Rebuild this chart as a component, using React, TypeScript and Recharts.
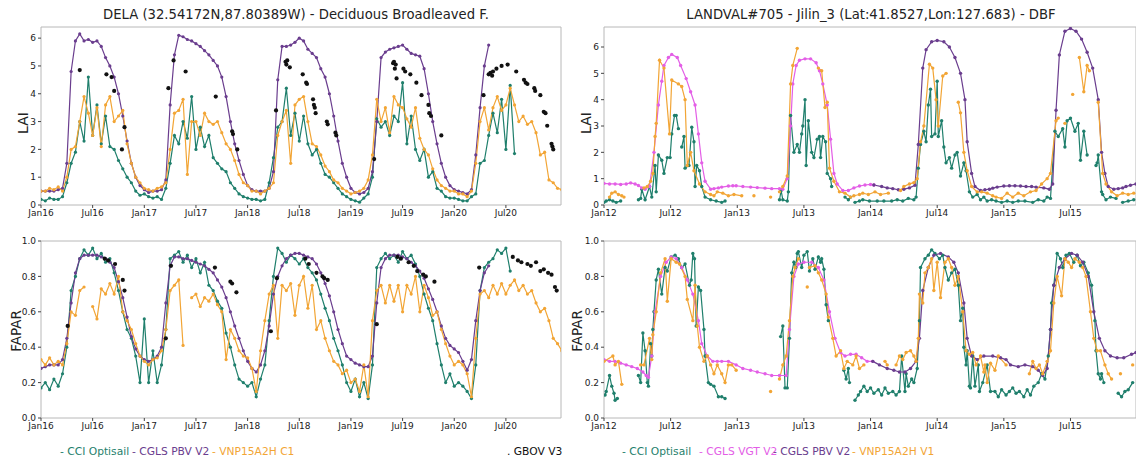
import React from "react";
import { ComposedChart, Line, XAxis, YAxis, ReferenceArea } from "recharts";

// time axis: months since January of the first year shown
const leftTicks = [0, 6, 12, 18, 24, 30, 36, 42, 48, 54];
const leftTickLabels = ["Jan16", "Jul16", "Jan17", "Jul17", "Jan18", "Jul18", "Jan19", "Jul19", "Jan20", "Jul20"];
const rightTicks = [0, 6, 12, 18, 24, 30, 36, 42];
const rightTickLabels = ["Jan12", "Jul12", "Jan13", "Jul13", "Jan14", "Jul14", "Jan15", "Jul15"];
const laiTicks = [0, 1, 2, 3, 4, 5, 6];
const faparTicks = [0, 0.2, 0.4, 0.6, 0.8, 1.0];

// ---- DELA, LAI (half-month samples from Jan16) ----
const delaLaiCci = [
  0.2, 0.15, 0.25, 0.2, 0.2, 0.3, 0.8, 1.5, 1.9, 3.0,
  2.3, 4.6, 2.5, 3.6, 2.2, 3.2, 2.1, 2.0, 1.6, 1.3,
  1.0, 0.8, 0.5, 0.35, 0.4, 0.3, 0.25, 0.3, 0.2, 0.6,
  1.5, 2.5, 2.2, 3.0, 2.4, 3.9, 2.0, 2.8, 2.1, 2.5,
  1.7, 1.5, 1.3, 1.2, 0.8, 0.6, 0.4, 0.3, 0.25, 0.2,
  0.2, 0.15, 0.2, 0.8, 1.7, 2.8, 3.0, 4.2, 2.5, 3.3,
  2.3, 3.2, 2.2, 1.8, 2.0, 1.5, 1.1, 1.0, 0.8, 0.6,
  0.4, 0.3, 0.2, 0.15, 0.1, 0.25, 0.4, 1.0, 3.1, 2.8,
  3.0, 2.5, 3.2, 3.0, 4.4, 2.2, 3.2, 2.0, 1.6, 2.0,
  1.0, 1.2, 0.6, 0.5, 0.3, 0.25, 0.25, 0.2, 0.15, 0.15,
  0.3, 0.4, 1.5, 1.6, 2.5, 3.3, 2.6, 3.8, 2.0, 4.3, 1.85,
];
const delaLaiPbv = [
  0.5, 0.5, 0.5, 0.5, 0.55, 0.6, 1.5, 4.8, 5.9, 6.15,
  5.9, 5.95, 5.85, 5.9, 5.7, 5.3, 5.0, 4.6, 4.0, 3.2,
  2.3, 1.5, 1.0, 0.7, 0.55, 0.45, 0.5, 0.5, 0.55, 0.9,
  3.6, 5.4, 6.1, 6.05, 5.95, 5.9, 5.8, 5.7, 5.55, 5.4,
  5.2, 5.0, 4.6, 3.9, 3.0, 2.2, 1.6, 1.1, 0.7, 0.55,
  0.5, 0.5, 0.5, 0.6, 1.2, 4.5, 5.7, 5.7, 5.75, 5.85,
  6.0, 5.9, 5.6, 5.45, 5.3, 4.9, 4.6, 4.0, 3.2, 2.3,
  1.5, 1.0, 0.6, 0.45, 0.4, 0.45, 0.6, 1.2, 3.0, 5.3,
  5.5, 5.6, 5.65, 5.7, 5.75, 5.6, 5.45, 5.4, 5.35, 4.9,
  4.0, 3.0, 2.2, 1.5, 1.0, 0.7, 0.55, 0.5, 0.45, 0.4,
  0.55, 1.8, 3.5, 5.0, 5.75,
];
const delaLaiVnp = [
  0.5, 0.5, 0.6, 0.55, 0.65, 0.5, 1.0, 2.0, 2.1, 3.0,
  3.9, 3.3, 2.5, 3.5, 2.1, 3.6, 3.9, 3.0, 3.2, 3.4,
  2.2, 1.5, 1.0, 0.8, 0.6, 0.55, 0.5, 0.6, 0.65, 0.8,
  2.0, 3.3, 3.4, 3.8, 1.1, 3.0, 3.0, 2.5, 3.3, 3.0,
  2.9, 3.0, 2.6, 2.2, 2.0, 1.6, 1.1, 0.8, 0.7, 0.5,
  0.5, 0.4, 0.5, 0.6, 0.8, 2.5, 3.0, 3.4, 1.5, 3.6,
  3.8, 3.9, 3.0, 2.2, 2.1, 1.8, 1.4, 1.2, 0.9, 0.8,
  0.6, 0.5, 0.4, 0.45, 0.5, 0.6, 0.9, 1.8, 3.8, 3.0,
  3.5, 2.6, 3.9, 3.6, 3.5, 3.1, 2.8, 3.5, 2.4, 2.0,
  1.8, 1.3, 0.9, 0.7, 0.6, 0.5, 0.5, 0.4, 0.4, 0.3,
  0.5, 1.5, 3.0, 3.5, 2.7, 3.5, 3.9, 3.4, 3.6, 4.2,
  3.6, 3.0, 3.2, 2.9, 3.0, 2.6, 1.8, 1.9, 0.9, 0.8,
  0.6, 0.55,
];
// GBOV: [month, value] pairs
const delaLaiGbov = [
  4.5, 4.85, 7.6, 4.7, 8.2, 4.6, 8.5, 4.1, 9.4, 2.0, 9.7, 2.8,
  14.8, 4.2, 15.4, 5.2, 16.8, 4.8, 20.3, 3.9, 22.2, 2.65, 22.3, 2.55, 22.8, 2.0,
  27.3, 3.4, 28.4, 5.15, 28.5, 5.05, 28.6, 5.2, 28.9, 4.95, 30.4, 4.7, 30.8, 4.4, 30.9, 4.35,
  31.6, 3.8, 31.7, 3.6, 31.8, 3.5, 31.9, 3.3, 33.2, 3.0, 33.3, 2.9, 34.2, 2.6, 34.3, 2.5,
  38.7, 1.65, 40.9, 5.1, 41.0, 5.15, 41.1, 4.9, 41.2, 5.05, 41.3, 4.55, 42.1, 4.9, 42.3, 4.8,
  42.9, 4.7, 43.6, 4.4, 44.2, 3.95, 45.0, 3.6, 45.1, 3.3, 45.3, 3.2, 46.5, 2.5,
  51.4, 3.95, 52.0, 4.7, 52.2, 4.75, 52.4, 4.65, 52.5, 4.8, 52.9, 4.9, 53.5, 5.0, 54.2, 5.05,
  55.2, 4.8, 56.1, 4.5, 56.3, 4.4, 56.5, 4.35, 57.3, 4.2, 57.4, 4.1, 58.0, 3.95, 58.4, 3.35,
  58.6, 3.3, 58.8, 2.85, 59.3, 2.2, 59.4, 2.1, 59.5, 2.0,
];

// ---- DELA, FAPAR ----
const delaFaparCci = [
  0.17, 0.2, 0.16, 0.22, 0.18, 0.25, 0.4, 0.72, 0.8, 0.9,
  0.95, 0.92, 0.96, 0.9, 0.93, 0.88, 0.9, 0.82, 0.72, 0.6,
  0.5, 0.45, 0.35, 0.2, 0.56, 0.2, 0.38, 0.2, 0.3, 0.5,
  0.9, 0.92, 0.94, 0.88, 0.92, 0.85, 0.9, 0.82, 0.88, 0.75,
  0.72, 0.66, 0.62, 0.48, 0.4, 0.3, 0.22, 0.2, 0.18, 0.2,
  0.12, 0.22, 0.3, 0.55, 0.8, 0.96, 0.93, 0.88, 0.92, 0.9,
  0.87, 0.9, 0.85, 0.82, 0.78, 0.7, 0.62, 0.55, 0.45, 0.38,
  0.3, 0.2, 0.15, 0.22, 0.12, 0.2, 0.11, 0.3, 0.85, 0.9,
  0.93, 0.9, 0.92, 0.88, 0.94, 0.9, 0.92, 0.87, 0.8, 0.7,
  0.62, 0.55, 0.42, 0.3, 0.2, 0.25, 0.18, 0.2, 0.18, 0.15,
  0.11, 0.3, 0.72, 0.85, 0.88, 0.9, 0.95, 0.93, 0.96, 0.83,
];
const delaFaparPbv = [
  0.28, 0.29, 0.3, 0.3, 0.3, 0.33, 0.45, 0.65, 0.82, 0.9,
  0.92, 0.92, 0.92, 0.92, 0.91, 0.9, 0.88, 0.85, 0.77, 0.68,
  0.57, 0.46, 0.39, 0.35, 0.33, 0.32, 0.33, 0.35, 0.4, 0.65,
  0.86, 0.91, 0.91, 0.9, 0.9, 0.89, 0.88, 0.87, 0.86, 0.84,
  0.82, 0.78, 0.74, 0.68, 0.6, 0.52, 0.45, 0.38, 0.32, 0.28,
  0.26, 0.3, 0.38, 0.52, 0.7, 0.8, 0.86, 0.9, 0.92, 0.93,
  0.93, 0.92, 0.91, 0.9, 0.87, 0.82, 0.76, 0.69, 0.6, 0.5,
  0.42, 0.35, 0.33, 0.31, 0.3, 0.29, 0.29, 0.35, 0.65, 0.85,
  0.9, 0.92, 0.92, 0.92, 0.91, 0.9, 0.88, 0.86, 0.83, 0.79,
  0.73, 0.67, 0.6, 0.52, 0.45, 0.41, 0.39, 0.37, 0.32, 0.27,
  0.33, 0.55, 0.72, 0.82, 0.86,
];
const delaFaparVnp = [
  0.33, 0.3, 0.34, 0.3, 0.32, 0.3, 0.42, 0.6, 0.58, 0.72,
  0.74, null, 0.63, 0.56, 0.73, 0.7, 0.76, 0.7, 0.8, 0.6,
  0.55, 0.5, 0.42, 0.35, 0.32, 0.3, 0.33, 0.34, 0.38, 0.5,
  0.72, 0.75, 0.78, 0.41, null, 0.68, 0.7, 0.63, 0.68, 0.66,
  0.7, 0.64, 0.6, 0.33, 0.5, 0.45, 0.38, 0.35, 0.34, 0.28,
  0.15, 0.38, 0.55, 0.7, 0.75, 0.45, 0.75, 0.72, 0.76, 0.58,
  0.75, 0.8, 0.62, 0.75, 0.5, 0.55, 0.45, 0.38, 0.32, 0.3,
  0.25, 0.27, 0.2, 0.22, 0.15, 0.3, 0.12, 0.55, 0.72, 0.75,
  0.65, 0.75, 0.66, 0.75, 0.6, 0.75, 0.7, 0.8, 0.6, 0.75,
  0.68, 0.58, 0.6, 0.5, 0.42, 0.35, 0.3, 0.32, 0.3, 0.25,
  0.12, 0.45, 0.7, 0.72, 0.68, 0.75, 0.7, 0.76, 0.7, 0.75,
  0.78, 0.72, 0.75, 0.7, 0.72, 0.65, 0.6, 0.62, 0.55, 0.45,
  0.42, 0.38,
];
const delaFaparGbov = [
  3.1, 0.52, 7.4, 0.9, 7.8, 0.89, 8.6, 0.87, 9.5, 0.78, 9.7, 0.72,
  14.5, 0.45, 15.1, 0.86, 20.2, 0.85, 22.0, 0.77, 22.2, 0.76, 22.7, 0.71,
  26.7, 0.49, 27.4, 0.79, 30.7, 0.9, 31.1, 0.87, 32.0, 0.82, 32.7, 0.8, 32.9, 0.79, 33.3, 0.78,
  39.0, 0.53, 41.4, 0.91, 41.8, 0.9, 42.7, 0.88, 43.3, 0.86, 43.7, 0.83, 44.4, 0.81, 44.7, 0.8, 45.7, 0.77,
  50.9, 0.85, 54.8, 0.91, 55.4, 0.89, 55.8, 0.88, 56.5, 0.87, 56.9, 0.86, 57.5, 0.88, 58.0, 0.83,
  58.4, 0.84, 58.9, 0.82, 59.3, 0.81, 59.7, 0.74, 59.9, 0.72,
];

// ---- Jilin_3, LAI: [month, value] pairs from Jan12, null = gap ----
const jilinLaiCci = [
  0.0, 0.1, 0.2, 0.15, 0.5, 0.2, 0.8, 0.15, 1.1, 0.1, 1.5, 0.15, 1.6, null,
  3.1, 0.2, 3.3, 0.25, 3.4, 0.6, 3.7, 0.2, 4.1, 0.7, 4.3, 0.3, 4.6, 1.5, 4.7, 0.5, 4.9, 1.9,
  5.2, 1.7, 5.4, 1.2, 5.7, 1.8, 5.95, 1.8, 6.1, 2.7, 6.35, 3.4, 6.5, 3.4, 6.7, 2.9, 6.8, null,
  7.0, 2.2, 7.2, 2.6, 7.3, 1.4, 7.65, 1.5, 7.9, 2.95, 8.1, 2.4, 8.2, 0.7, 8.35, 1.5, 8.6, 1.3,
  8.8, 0.7, 9.1, 0.3, 9.6, 0.2, 10.1, 0.15, 10.6, 0.1, 10.9, 0.15, 11.0, null,
  15.8, 0.2, 15.95, 0.55, 16.1, 0.2, 16.5, 0.15, 16.6, 0.5, 16.8, 3.4, 17.1, 2.0, 17.4, 2.3,
  17.6, 2.0, 17.8, 2.7, 17.9, 3.0, 18.1, 4.0, 18.2, 1.5, 18.4, 3.2, 18.7, 2.0, 18.9, 1.8,
  19.2, 2.5, 19.4, 2.6, 19.5, 1.8, 19.7, 2.6, 19.95, 2.4, 20.1, 1.2, 20.4, 1.0, 20.5, 0.7, 20.6, null,
  21.7, 0.3, 22.0, 0.2, 22.2, 0.3, 22.3, null,
  22.6, 0.1, 23.0, 0.15, 23.3, 0.2, 23.9, 0.15, 24.6, 0.15, 25.2, 0.15, 25.9, 0.15, 26.4, 0.2,
  26.9, 0.15, 27.4, 0.25, 27.9, 0.2, 28.1, 0.3, 28.3, 1.4, 28.5, 2.3, 28.8, 2.8, 29.0, 2.4,
  29.2, 3.8, 29.4, 4.4, 29.5, 2.6, 29.8, 2.7, 30.0, 4.7, 30.1, 2.6, 30.4, 3.2, 30.6, 2.2,
  30.8, 1.6, 31.1, 1.8, 31.3, 1.4, 31.6, 1.9, 31.8, 2.0, 32.1, 1.1, 32.4, 1.6, 32.6, 1.3,
  32.9, 0.5, 33.2, 0.3, 33.6, 0.4, 33.9, 0.2, 34.2, 0.3, 34.5, 0.15, 34.9, 0.2, 35.3, 0.15,
  35.8, 0.1, 36.3, 0.15, 36.8, 0.1, 37.3, 0.15, 37.9, 0.15, 38.6, 0.1, 39.1, 0.2, 39.6, 0.15,
  39.9, 0.3, 40.2, 0.25, 40.6, 2.8, 40.9, 2.6, 41.3, 2.9, 41.5, 2.2, 41.7, 3.2, 42.0, 3.3,
  42.4, 2.8, 42.7, 3.1, 42.9, 1.7, 43.2, 2.8, 43.5, 1.9, 43.7, null,
  44.3, 1.5, 44.4, 1.6, 44.5, 1.9, 44.8, 0.5, 44.9, 0.4, 45.2, 0.2, 45.6, 0.3, 46.1, 0.25, 46.3, null,
  46.7, 0.1, 47.2, 0.15, 47.7, 0.2,
];
const jilinLaiVgt = [
  0, 0.82, 0.5, 0.8, 1, 0.8, 1.5, 0.78, 2, 0.8, 2.4, 0.84, 2.8, 0.8, 3.1, 0.74, 3.4, 0.65,
  3.7, 0.6, 4.1, 0.7, 4.5, 2.0, 4.9, 3.8, 5.2, 4.7, 5.4, 5.3, 5.8, 5.6, 6.1, 5.72, 6.6, 5.6,
  6.9, 5.3, 7.4, 4.8, 7.8, 4.3, 8.2, 3.8, 8.5, 2.7, 8.8, 1.6, 9.1, 0.9, 9.6, 0.6, 9.9, 0.62,
  10.3, 0.65, 10.6, 0.68, 11.2, 0.72, 11.6, 0.73, 11.9, 0.73, 12.5, 0.7, 13.2, 0.68, 13.8, 0.66,
  14.5, 0.64, 15.1, 0.62, 15.8, 0.62, 16.1, 0.6, 16.5, 1.0, 16.8, 3.0, 17.0, 4.6, 17.3, 5.3,
  17.6, 5.5, 18.1, 5.55, 18.6, 5.55, 19.1, 5.4, 19.4, 5.1, 19.7, 4.6, 20.1, 3.8, 20.4, 2.5,
  20.7, 1.2, 21.0, 0.8, 21.5, 0.55, 22.0, 0.55, 22.5, 0.65, 23.0, 0.72, 23.5, 0.76, 24.0, 0.78,
  24.3, 0.76,
];
const jilinLaiPbv = [
  24.3, 0.76, 25, 0.7, 25.5, 0.65, 26, 0.62, 26.5, 0.58, 27, 0.6, 27.5, 0.65, 28, 0.75,
  28.3, 2.3, 28.7, 5.2, 29.0, 5.9, 29.5, 6.2, 30.0, 6.25, 30.6, 6.2, 31.1, 6.0, 31.6, 5.6,
  32.1, 5.0, 32.5, 4.0, 32.7, 2.4, 33.1, 1.2, 33.4, 0.7, 33.9, 0.55, 34.3, 0.58, 34.7, 0.6,
  35.0, 0.64, 35.4, 0.68, 36.0, 0.72, 36.5, 0.73, 37.0, 0.73, 37.5, 0.72, 38.0, 0.7, 38.5, 0.7,
  38.9, 0.68, 39.6, 0.65, 40.1, 0.6, 40.4, 0.8, 40.7, 3.6, 41.0, 5.7, 41.5, 6.6, 42.0, 6.7,
  42.5, 6.6, 43.0, 6.3, 43.5, 5.8, 44.0, 5.2, 44.5, 4.0, 44.8, 2.0, 45.1, 1.2, 45.4, 0.7,
  45.9, 0.6, 46.3, 0.62, 46.7, 0.65, 47.0, 0.7, 47.4, 0.75, 47.9, 0.8,
];
const jilinLaiVnp = [
  0.5, 0.3, 0.7, 0.45, 1.0, 0.5, 1.3, 0.4, 1.6, 0.35, 1.8, 0.3, 2.0, null,
  3.6, 0.65, 3.9, 0.7, 4.2, 0.9, 4.4, 1.2, 4.6, 2.6, 4.7, 3.1, 5.0, 5.5, 5.4, 5.2, 5.9, 2.7,
  6.1, 4.75, 6.7, 4.6, 7.0, 4.5, 7.3, 4.0, 7.5, 1.5, 7.8, 2.0, 8.1, 1.3, 8.6, 0.8, 9.1, 0.5,
  9.6, 0.4, 9.9, 0.35, 10.2, 0.5, 10.7, 0.45, 11.2, 0.35, 11.7, 0.4, 12.4, 0.35, 12.8, null,
  13.5, 0.35, 13.6, null, 15.0, 0.3, 15.1, null,
  15.8, 0.5, 16.1, 0.7, 16.5, 1.1, 16.8, 4.6, 17.0, 5.3, 17.4, 5.95, 17.6, null,
  19.3, 5.2, 19.6, 5.1, 19.9, 3.7, 20.1, 3.9, 20.3, 1.4, 20.7, 0.9, 21.2, 0.5, 21.7, 0.45,
  22.2, 0.3, 22.5, 0.35, 23.0, 0.4, 23.3, 0.45, 23.8, 0.4, 24.4, 0.5, 24.9, 0.4, 25.6, 0.45, 25.8, null,
  26.7, 0.55, 27.0, 0.7, 27.5, 0.8, 27.9, 0.85, 28.2, 1.0, 28.5, 2.4, 28.8, 3.0, 29.3, 5.35,
  29.6, 5.2, 29.9, 4.0, 30.1, 3.0, 30.5, 4.9, 30.8, 5.0, 31.0, null,
  31.9, 3.9, 32.1, 3.5, 32.4, 2.0, 32.7, 1.3, 33.1, 0.7, 33.6, 0.5, 34.0, 0.5, 34.5, 0.45,
  35.0, 0.35, 35.3, 0.3, 35.8, 0.25, 36.3, 0.45, 36.8, 0.3, 37.3, 0.45, 37.8, 0.35, 38.4, 0.5,
  38.9, 0.55, 39.4, 0.8, 39.9, 1.0, 40.2, 1.2, 40.7, 3.2, 40.9, 3.3, 41.1, null,
  41.5, 3.1, 41.6, null, 42.2, 4.2, 42.3, null,
  42.8, 5.6, 43.2, 4.3, 43.5, 5.3, 43.7, 5.1, 43.9, null,
  44.5, 3.9, 44.9, 1.2, 45.2, 0.8, 45.7, 0.5, 46.2, 0.35, 46.7, 0.45, 47.2, 0.4, 47.7, 0.45,
];

// ---- Jilin_3, FAPAR ----
const jilinFaparCci = [
  0.1, 0.13, 0.2, 0.15, 0.5, 0.24, 0.7, 0.18, 0.9, 0.14, 1.0, 0.1, 1.2, 0.11, 1.3, null,
  3.1, 0.24, 3.3, 0.2, 3.5, 0.48, 3.7, 0.38, 3.9, 0.2, 4.0, 0.18, 4.2, 0.42, 4.3, 0.35,
  4.4, 0.5, 4.5, 0.6, 4.7, 0.78, 4.9, 0.84, 5.2, 0.7, 5.5, 0.85, 5.7, 0.83, 6.05, 0.91,
  6.4, 0.92, 6.7, 0.9, 7.0, 0.85, 7.3, 0.87, 7.7, 0.75, 7.85, 0.78, 8.0, 0.93, 8.15, 0.9,
  8.3, 0.52, 8.5, 0.74, 8.7, 0.72, 9.0, 0.5, 9.1, 0.35, 9.4, 0.2, 9.6, 0.19, 9.9, 0.18,
  10.3, 0.12, 10.6, 0.12, 10.9, 0.11, 11.0, null,
  15.9, 0.46, 16.1, 0.52, 16.3, 0.17, 16.5, 0.17, 16.7, 0.45, 16.9, 0.82, 17.1, 0.88,
  17.25, 0.85, 17.4, 0.93, 17.5, 0.94, 17.8, 0.85, 18.0, 0.92, 18.3, 0.94, 18.5, 0.83,
  18.8, 0.9, 19.0, 0.84, 19.3, 0.91, 19.5, 0.88, 19.6, 0.9, 19.8, 0.84, 20.0, 0.64, 20.2, 0.55, 20.3, null,
  21.6, 0.27, 21.8, 0.22, 22.0, 0.28, 22.1, 0.2, 22.2, null,
  22.6, 0.1, 22.9, 0.13, 23.1, 0.15, 23.4, 0.18, 23.7, 0.15, 24.0, 0.17, 24.3, 0.14, 24.7, 0.16,
  25.0, 0.13, 25.3, 0.17, 25.6, 0.14, 26.0, 0.15, 26.3, 0.13, 26.6, 0.15, 26.8, 0.35, 27.1, 0.15,
  27.2, 0.25, 27.4, 0.18, 27.7, 0.22, 27.9, 0.2, 28.2, 0.28, 28.4, 0.55, 28.5, 0.85, 28.9, 0.9,
  29.2, 0.92, 29.5, 0.95, 29.8, 0.93, 30.2, 0.9, 30.5, 0.92, 30.7, 0.85, 31.0, 0.78, 31.3, 0.82,
  31.6, 0.84, 31.9, 0.75, 32.1, 0.55, 32.3, 0.62, 32.4, 0.4, 32.6, 0.3, 32.7, 0.38, 32.9, 0.18,
  33.0, 0.17, 33.2, 0.35, 33.4, 0.18, 33.7, 0.3, 33.8, 0.15, 34.1, 0.2, 34.5, 0.3, 34.8, 0.15,
  35.2, 0.15, 35.5, 0.12, 35.8, 0.16, 36.2, 0.13, 36.5, 0.15, 36.8, 0.17, 37.1, 0.14, 37.4, 0.15,
  37.8, 0.12, 38.1, 0.16, 38.4, 0.13, 38.7, 0.18, 39.1, 0.2, 39.4, 0.25, 39.7, 0.22, 40.0, 0.35,
  40.2, 0.5, 40.3, 0.65, 40.5, 0.75, 40.8, 0.93, 41.1, 0.9, 41.3, 0.85, 41.6, 0.92, 41.9, 0.93,
  42.3, 0.88, 42.6, 0.92, 42.9, 0.86, 43.2, 0.88, 43.6, 0.82, 43.9, 0.75, 44.2, 0.55, 44.3, 0.38,
  44.5, 0.25, 44.7, 0.22, 44.8, 0.25, 45.0, 0.2, 45.1, null,
  46.3, 0.14, 46.6, 0.12, 46.9, 0.15, 47.2, 0.16, 47.6, 0.2,
];
const jilinFaparVgt = [
  0, 0.33, 0.5, 0.32, 1, 0.32, 1.5, 0.31, 2, 0.3, 2.5, 0.29, 3, 0.28, 3.5, 0.26, 3.8, 0.24,
  4.0, 0.23, 4.3, 0.35, 4.6, 0.6, 5.1, 0.8, 5.6, 0.88, 6.05, 0.91, 6.5, 0.9, 7.0, 0.85,
  7.5, 0.78, 8.0, 0.7, 8.5, 0.55, 8.8, 0.42, 9.3, 0.35, 9.8, 0.32, 10.2, 0.32, 10.6, 0.32,
  11.2, 0.32, 11.9, 0.3, 12.5, 0.28, 13.2, 0.27, 13.8, 0.26, 14.5, 0.25, 15.1, 0.24, 15.8, 0.24,
  16.4, 0.24, 16.7, 0.5, 17.1, 0.8, 17.5, 0.87, 18.0, 0.88, 18.7, 0.88, 19.3, 0.85, 19.8, 0.78,
  20.3, 0.6, 20.8, 0.45, 21.3, 0.37, 21.7, 0.35, 22.2, 0.36, 22.7, 0.36, 23.2, 0.34, 23.7, 0.32,
  24.2, 0.32,
];
const jilinFaparPbv = [
  24.2, 0.32, 24.8, 0.3, 25.5, 0.28, 26.1, 0.27, 26.6, 0.26, 27.1, 0.26, 27.6, 0.28, 28.1, 0.32,
  28.4, 0.45, 28.7, 0.72, 29.2, 0.85, 29.7, 0.92, 30.3, 0.93, 31.0, 0.91, 31.5, 0.88, 31.9, 0.82,
  32.4, 0.65, 32.7, 0.45, 33.1, 0.35, 33.6, 0.33, 34.2, 0.35, 35.0, 0.35, 35.7, 0.34, 36.2, 0.33,
  36.6, 0.3, 37.3, 0.29, 37.9, 0.3, 38.6, 0.29, 39.1, 0.27, 39.5, 0.24, 39.9, 0.28, 40.2, 0.5,
  40.5, 0.75, 41.0, 0.85, 41.5, 0.9, 42.1, 0.93, 42.6, 0.92, 43.1, 0.88, 43.6, 0.8, 44.1, 0.6,
  44.6, 0.45, 45.1, 0.38, 45.6, 0.35, 46.2, 0.34, 46.8, 0.34, 47.5, 0.36, 47.9, 0.37,
];
const jilinFaparVnp = [
  0, 0.32, 0.8, 0.35, 1.0, 0.3, 1.3, 0.32, 1.6, 0.19, 1.7, null,
  3.3, 0.3, 3.6, 0.3, 4.1, 0.45, 4.3, 0.33, 4.4, 0.47, 4.7, 0.6, 5.1, 0.82, 5.5, 0.9, 5.7, 0.66,
  6.05, 0.9, 6.5, 0.88, 6.8, 0.87, 7.3, 0.8, 7.5, 0.67, 8.0, 0.55, 8.2, 0.75, 8.4, 0.52, 8.6, 0.4,
  9.0, 0.32, 9.3, 0.35, 9.6, 0.3, 9.9, 0.25, 10.2, 0.3, 10.6, 0.25, 10.9, 0.2, 11.2, 0.3,
  11.5, 0.3, 11.9, 0.27, 12.0, null, 15.0, 0.15, 15.1, null,
  15.8, 0.22, 16.1, 0.3, 16.4, 0.35, 16.7, 0.55, 17.0, 0.8, 17.2, 0.85, 17.5, 0.9, 17.6, null,
  18.3, 0.74, 18.4, null, 18.5, 0.85, 19.0, 0.86, 19.3, 0.82, 19.6, 0.78, 20.0, 0.7, 20.2, 0.57,
  20.6, 0.45, 20.9, 0.35, 21.3, 0.38, 21.6, 0.28, 21.9, 0.32, 22.4, 0.3, 22.7, 0.35, 23.0, 0.28,
  23.4, 0.3, 23.5, null, 25.3, 0.32, 25.5, 0.3, 25.6, null,
  26.3, 0.3, 26.6, 0.35, 26.9, 0.33, 27.2, 0.37, 27.6, 0.38, 27.9, 0.35, 28.1, 0.32, 28.3, 0.45,
  28.4, 0.7, 28.7, 0.65, 28.9, 0.82, 29.2, 0.85, 29.5, 0.9, 29.7, 0.72, 30.0, 0.88, 30.3, 0.68,
  30.7, 0.88, 31.0, 0.9, 31.3, 0.85, 31.6, 0.75, 31.9, 0.8, 32.3, 0.6, 32.6, 0.38, 32.9, 0.36,
  33.2, 0.37, 33.5, 0.3, 33.9, 0.35, 34.2, 0.26, 34.3, 0.3, 34.5, 0.2, 34.8, 0.31, 35.2, 0.27,
  35.5, 0.35, 36.2, 0.3, 36.4, null,
  38.3, 0.25, 38.6, 0.32, 38.9, 0.28, 39.2, 0.3, 39.5, 0.25, 39.9, 0.32, 40.2, 0.38, 40.5, 0.65,
  40.8, 0.8, 41.2, 0.69, 41.5, 0.9, 41.8, 0.88, 42.1, 0.85, 42.4, 0.9, 42.8, 0.88, 43.1, 0.85,
  43.4, 0.8, 43.8, 0.6, 44.1, 0.45, 44.4, 0.38, 44.7, 0.38, 45.1, 0.3, 45.4, 0.25, 45.7, 0.22, 45.8, null,
  46.5, 0.25, 46.6, null, 47.6, 0.3,
];

const TEAL = "#1f7f6c";
const PURPLE = "#6a3d8e";
const ORANGE = "#f2a535";
const MAGENTA = "#e35ee6";
const BLACK = "#111111";

type Pt = { t: number; v: number | null };
type Series = { key: string; data: Pt[]; color: string; line: boolean; r: number };

const halfMonthly = (vals: (number | null)[]): Pt[] => vals.map((v, i) => ({ t: i / 2, v }));
const pairs = (flat: (number | null)[]): Pt[] => {
  const out: Pt[] = [];
  for (let i = 0; i < flat.length; i += 2) out.push({ t: flat[i] as number, v: flat[i + 1] });
  return out;
};

function Panel(props: {
  left: number;
  top: number;
  width: number;
  height: number;
  yAxisWidth: number;
  rightPad: number;
  xMax: number;
  yMax: number;
  xTicks: number[];
  xLabels: string[];
  yTicks: number[];
  yDigits: number;
  series: Series[];
}) {
  const p = props;
  return (
    <div style={{ position: "absolute", left: p.left, top: p.top }}>
      <ComposedChart width={p.width} height={p.height} margin={{ top: 27, right: p.rightPad, bottom: 0, left: 0 }}>
        <XAxis
          type="number"
          dataKey="t"
          domain={[0, p.xMax]}
          allowDataOverflow
          ticks={p.xTicks}
          interval={0}
          tickFormatter={(t: number) => p.xLabels[p.xTicks.indexOf(t)] ?? ""}
          height={21}
          axisLine={false}
          tickSize={3}
          tickLine={{ stroke: "#444" }}
          tick={{ fontSize: 9, fill: "#222" }}
        />
        <YAxis
          type="number"
          dataKey="v"
          domain={[0, p.yMax]}
          allowDataOverflow
          ticks={p.yTicks}
          interval={0}
          tickFormatter={(v: number) => v.toFixed(p.yDigits)}
          width={p.yAxisWidth}
          axisLine={false}
          tickSize={3}
          tickLine={{ stroke: "#444" }}
          tick={{ fontSize: 9, fill: "#222" }}
        />
        <ReferenceArea x1={0} x2={p.xMax} y1={0} y2={p.yMax} fill="none" stroke="#b8b8b8" strokeWidth={1} />
        {p.series.map((s) => (
          <Line
            key={s.key}
            data={s.data}
            dataKey="v"
            type="linear"
            stroke={s.line ? s.color : "none"}
            strokeWidth={1.2}
            dot={{ r: s.r, fill: s.color, stroke: "none" }}
            activeDot={false}
            connectNulls={false}
            isAnimationActive={false}
          />
        ))}
      </ComposedChart>
    </div>
  );
}

const font = "'DejaVu Sans', sans-serif";

function Label({ x, y, text, size, rotate }: { x: number; y: number; text: string; size: number; rotate?: boolean }) {
  return (
    <div
      style={{
        position: "absolute",
        left: x,
        top: y,
        transform: `translate(-50%, -50%)${rotate ? " rotate(-90deg)" : ""}`,
        fontSize: size,
        color: "#222",
        whiteSpace: "nowrap",
        lineHeight: 1,
      }}
    >
      {text}
    </div>
  );
}

function LegendText({ x, y, text, color }: { x: number; y: number; text: string; color: string }) {
  return (
    <div style={{ position: "absolute", left: x, top: y, fontSize: 10.7, color, whiteSpace: "nowrap", lineHeight: 1 }}>
      {text}
    </div>
  );
}

export default function App() {
  const leftLai: Series[] = [
    { key: "cci", data: halfMonthly(delaLaiCci), color: TEAL, line: true, r: 1.6 },
    { key: "pbv", data: halfMonthly(delaLaiPbv), color: PURPLE, line: true, r: 1.6 },
    { key: "vnp", data: halfMonthly(delaLaiVnp), color: ORANGE, line: true, r: 1.6 },
    { key: "gbov", data: pairs(delaLaiGbov), color: BLACK, line: false, r: 2.1 },
  ];
  const leftFapar: Series[] = [
    { key: "cci", data: halfMonthly(delaFaparCci), color: TEAL, line: true, r: 1.6 },
    { key: "pbv", data: halfMonthly(delaFaparPbv), color: PURPLE, line: true, r: 1.6 },
    { key: "vnp", data: halfMonthly(delaFaparVnp), color: ORANGE, line: true, r: 1.6 },
    { key: "gbov", data: pairs(delaFaparGbov), color: BLACK, line: false, r: 2.1 },
  ];
  const rightLai: Series[] = [
    { key: "cci", data: pairs(jilinLaiCci), color: TEAL, line: true, r: 1.7 },
    { key: "vgt", data: pairs(jilinLaiVgt), color: MAGENTA, line: true, r: 1.7 },
    { key: "pbv", data: pairs(jilinLaiPbv), color: PURPLE, line: true, r: 1.7 },
    { key: "vnp", data: pairs(jilinLaiVnp), color: ORANGE, line: true, r: 1.7 },
  ];
  const rightFapar: Series[] = [
    { key: "cci", data: pairs(jilinFaparCci), color: TEAL, line: true, r: 1.7 },
    { key: "vgt", data: pairs(jilinFaparVgt), color: MAGENTA, line: true, r: 1.7 },
    { key: "pbv", data: pairs(jilinFaparPbv), color: PURPLE, line: true, r: 1.7 },
    { key: "vnp", data: pairs(jilinFaparVnp), color: ORANGE, line: true, r: 1.7 },
  ];

  return (
    <div style={{ position: "absolute", left: 0, top: 0, width: 1136, height: 464, background: "#fff", fontFamily: font, overflow: "hidden" }}>
      <Panel left={0} top={0} width={570} height={226} yAxisWidth={41} rightPad={9} xMax={60.4} yMax={6.4}
        xTicks={leftTicks} xLabels={leftTickLabels} yTicks={laiTicks} yDigits={0} series={leftLai} />
      <Panel left={0} top={214} width={570} height={225} yAxisWidth={41} rightPad={9} xMax={60.4} yMax={1.0}
        xTicks={leftTicks} xLabels={leftTickLabels} yTicks={faparTicks} yDigits={1} series={leftFapar} />
      <Panel left={570} top={0} width={566} height={226} yAxisWidth={34} rightPad={0} xMax={47.9} yMax={6.76}
        xTicks={rightTicks} xLabels={rightTickLabels} yTicks={laiTicks} yDigits={0} series={rightLai} />
      <Panel left={570} top={214} width={566} height={225} yAxisWidth={34} rightPad={0} xMax={47.9} yMax={1.0}
        xTicks={rightTicks} xLabels={rightTickLabels} yTicks={faparTicks} yDigits={1} series={rightFapar} />

      <Label x={296} y={15} size={13.2} text="DELA (32.54172N,87.80389W) - Deciduous Broadleaved F." />
      <Label x={871} y={15} size={13.2} text="LANDVAL#705 - Jilin_3 (Lat:41.8527,Lon:127.683) - DBF" />
      <Label x={23} y={123} size={14} rotate text="LAI" />
      <Label x={17} y={331} size={13.5} rotate text="FAPAR" />
      <Label x={586} y={123} size={14} rotate text="LAI" />
      <Label x={578} y={331} size={13.5} rotate text="FAPAR" />

      <LegendText x={60} y={447} text="- CCI Optisail" color={TEAL} />
      <LegendText x={132} y={447} text="- CGLS PBV V2" color={PURPLE} />
      <LegendText x={212} y={447} text="- VNP15A2H C1" color={ORANGE} />
      <LegendText x={507} y={447} text=". GBOV V3" color={BLACK} />
      <LegendText x={622} y={447} text="- CCI Optisail" color={TEAL} />
      <LegendText x={699} y={447} text="- CGLS VGT V2" color={MAGENTA} />
      <LegendText x={773} y={447} text="- CGLS PBV V2" color={PURPLE} />
      <LegendText x={852} y={447} text="- VNP15A2H V1" color={ORANGE} />
    </div>
  );
}
